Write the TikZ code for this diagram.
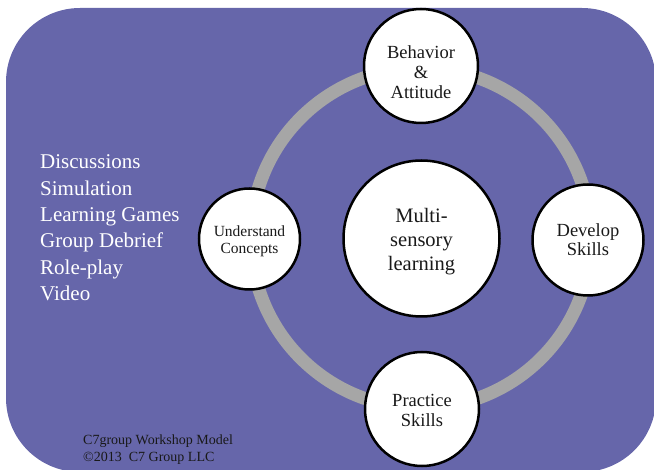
\documentclass[tikz,border=0pt]{standalone}
\usepackage{fontspec}
\setmainfont{Liberation Serif}
\definecolor{bgpurple}{RGB}{102,102,170}
\definecolor{ringgray}{RGB}{166,166,166}
\definecolor{darktext}{RGB}{25,25,25}
\begin{document}
\begin{tikzpicture}[x=1pt,y=-1pt,
  circ/.style={circle, draw=black, line width=2.5pt, fill=white, inner sep=0pt},
  circtext/.style={inner sep=0pt, align=center, text=darktext},
  listitem/.style={anchor=base west, inner sep=0pt, text=white, font=\fontsize{21}{26}\selectfont},
  footer/.style={anchor=base west, inner sep=0pt, text=darktext, font=\fontsize{14}{17}\selectfont}]
\useasboundingbox (0,0) rectangle (654,470);
\clip (0,0) rectangle (654,470);
\fill[bgpurple, rounded corners=74pt] (6,8) rectangle (656,472);
\coordinate (ringc) at (421,238);
\draw[ringgray, line width=13pt] (ringc) circle[radius=170pt];
\node[circ, minimum size=156pt] (center) at (421.5,238.5) {};
\node[circ, minimum size=114pt] (top) at (421,66) {};
\node[circ, minimum size=114pt] (bottom) at (422,409) {};
\node[circ, minimum size=101pt] (left) at (249.5,239) {};
\node[circ, minimum size=111pt] (right) at (588,240) {};
\node[circtext, font=\fontsize{20.5}{24}\selectfont, yshift=-3.5pt] (centert) at (center) {Multi-\\sensory\\learning};
\node[circtext, font=\fontsize{18.5}{20}\selectfont, yshift=-6pt] (topt) at (top) {Behavior\\\&\\Attitude};
\node[circtext, font=\fontsize{18.5}{20}\selectfont, yshift=-1pt] (bottomt) at (bottom) {Practice\\Skills};
\node[circtext, font=\fontsize{15.5}{17}\selectfont, yshift=-2.5pt] (leftt) at (left) {Understand\\Concepts};
\node[circtext, font=\fontsize{18.5}{19}\selectfont] (rightt) at (right) {Develop\\Skills};
\node[listitem] (l1) at (40,169) {Discussions};
\node[listitem] (l2) at (40,195.3) {Simulation};
\node[listitem] (l3) at (40,221.6) {Learning Games};
\node[listitem] (l4) at (40,247.9) {Group Debrief};
\node[listitem] (l5) at (40,274.2) {Role-play};
\node[listitem] (l6) at (40,300.5) {Video};
\node[footer] (f1) at (83,445) {C7group Workshop Model};
\node[footer] (f2) at (83,462) {©2013\ \ C7 Group LLC};
\end{tikzpicture}
\end{document}
